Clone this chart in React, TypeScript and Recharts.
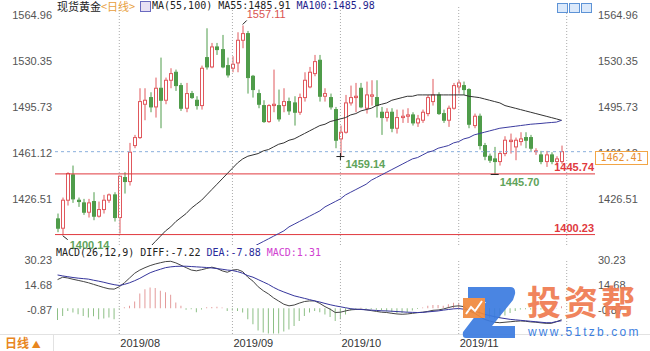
import React from "react";
import {
  ComposedChart,
  Bar,
  Line,
  XAxis,
  YAxis,
  ReferenceLine,
  ReferenceDot,
  Cell,
} from "recharts";

// daily candles, Jul 2019 .. end Nov 2019 (index 0 = first candle)
const opens = [
  1412, 1405, 1426, 1445, 1426, 1424, 1417, 1425, 1414, 1419, 1426, 1430, 1413, 1443, 1440, 1467, 1473, 1498, 1503, 1496,
  1510, 1501, 1516, 1522, 1512, 1495, 1506, 1501, 1497, 1533, 1526, 1541, 1539, 1527, 1525, 1529, 1546, 1551, 1519, 1506,
  1497, 1485, 1497, 1497, 1497, 1500, 1499, 1492, 1503, 1511, 1521, 1531, 1504, 1503, 1494, 1472, 1477, 1499, 1503, 1510,
  1495, 1504, 1503, 1492, 1488, 1492, 1480, 1488, 1489, 1490, 1484, 1486, 1491, 1500, 1505, 1491, 1486, 1495, 1511, 1512,
  1509, 1482, 1489, 1467, 1459, 1457, 1455, 1461, 1470, 1466, 1470, 1473, 1473, 1463, 1460, 1455, 1460, 1455, 1455,
];
const highs = [
  1416, 1428, 1447, 1452, 1428, 1427, 1427, 1432, 1425, 1430, 1431, 1432, 1444, 1447, 1469, 1475, 1510, 1510, 1507, 1518,
  1533, 1518, 1525, 1524, 1514, 1514, 1508, 1504, 1527, 1555, 1544, 1544, 1550, 1533, 1534, 1552, 1557.11, 1553, 1520, 1509,
  1501, 1498, 1524, 1509, 1510, 1503, 1504, 1506, 1522, 1526, 1535, 1535, 1510, 1506, 1496, 1482, 1505, 1512, 1514, 1514,
  1515, 1516, 1516, 1496, 1495, 1495, 1494, 1494, 1495, 1492, 1490, 1494, 1505, 1517, 1507, 1494, 1497, 1514, 1516, 1515,
  1510, 1491, 1491, 1469, 1461, 1466, 1463, 1474, 1476, 1473, 1477, 1477, 1475, 1465, 1463, 1463, 1462, 1459, 1467,
];
const lows = [
  1402, 1400.14, 1422, 1424, 1421, 1415, 1413, 1411, 1413, 1416, 1424, 1410, 1401, 1431, 1437, 1465, 1472, 1486, 1492, 1488,
  1480, 1498, 1510, 1508, 1493, 1492, 1502, 1494, 1494, 1524, 1525, 1535, 1525, 1518, 1522, 1522, 1540, 1506, 1503, 1495,
  1484, 1484, 1492, 1485, 1492, 1490, 1482, 1490, 1500, 1510, 1519, 1500, 1500, 1494, 1465, 1459.14, 1476, 1497, 1492, 1495,
  1491, 1497, 1488, 1475, 1485, 1477, 1476, 1484, 1484, 1482, 1481, 1484, 1489, 1497, 1490, 1484, 1481, 1494, 1506, 1505,
  1480, 1480, 1464, 1456, 1454, 1445.7, 1452, 1459, 1461, 1456, 1467, 1465, 1463, 1460, 1453, 1451, 1453, 1452, 1453,
];
const closes = [
  1405, 1426, 1446, 1427, 1425, 1417, 1424, 1414, 1419, 1426, 1430, 1413, 1444, 1440, 1462, 1473, 1500, 1501, 1496, 1510,
  1501, 1516, 1521, 1512, 1495, 1506, 1503, 1497, 1525, 1526, 1541, 1539, 1526, 1520, 1528, 1546, 1551, 1518, 1509, 1498,
  1485, 1497, 1498, 1487, 1500, 1493, 1492, 1503, 1516, 1522, 1530, 1504, 1506, 1496, 1471, 1477, 1499, 1503, 1504, 1496,
  1505, 1505, 1497, 1488, 1492, 1480, 1488, 1489, 1490, 1484, 1487, 1492, 1503, 1505, 1491, 1486, 1495, 1512, 1514, 1509,
  1483, 1489, 1467, 1459, 1456, 1455, 1461, 1471, 1471, 1471, 1472, 1471, 1465, 1463, 1455, 1460, 1455, 1457, 1462.41,
];

const ma55 = [
  ...Array(17).fill(null),
  1387, 1391, 1395, 1399, 1403, 1406, 1410, 1413, 1416, 1420, 1423, 1426, 1430, 1434, 1438, 1442, 1446, 1450, 1454, 1457,
  1459, 1460, 1461, 1463, 1464, 1466, 1468, 1469, 1471, 1472, 1474, 1476, 1478, 1480, 1482, 1483, 1485, 1486, 1487, 1488,
  1490, 1491, 1493, 1494, 1495, 1497, 1498, 1499, 1501, 1502, 1503, 1504, 1504, 1505, 1505, 1505, 1505, 1505, 1505, 1505,
  1505, 1505, 1505, 1504, 1503.5, 1503, 1502, 1501, 1500, 1499, 1497, 1496, 1495, 1494, 1493, 1492, 1491, 1490, 1489, 1488,
  1487, 1485.91,
];
const ma100 = [
  ...Array(38).fill(null),
  1391, 1393, 1395, 1397, 1399, 1401, 1403, 1406, 1408, 1410, 1412, 1414, 1416, 1418, 1421, 1423, 1425, 1427, 1430, 1432,
  1434, 1436, 1438, 1441, 1443, 1445, 1447, 1449, 1451, 1453, 1455, 1457, 1458, 1460, 1462, 1463, 1465, 1466, 1467, 1469,
  1470, 1472, 1473, 1475, 1476, 1477, 1478, 1479, 1480, 1480.5, 1481, 1481.5, 1482, 1482.5, 1483, 1483.3, 1483.6, 1484,
  1484.3, 1484.6, 1485.98,
];

const diff = [
  18.0, 19.5, 19.0, 18.2, 17.5, 16.8, 16.0, 15.0, 14.0, 13.0, 12.2, 12.0, 13.5, 16.0, 19.0, 22.0, 24.0, 25.5, 26.8, 27.8,
  28.6, 29.3, 29.5, 28.5, 27.0, 25.5, 24.0, 23.5, 24.2, 25.0, 25.8, 25.0, 23.5, 22.6, 24.0, 24.3, 23.0, 19.5, 17.0, 13.5,
  11.0, 9.0, 6.5, 4.5, 2.5, 1.5, 2.0, 3.2, 4.2, 4.6, 4.6, 3.0, 1.0, -0.6, -2.7, -2.5, -1.7, -1.0, -0.8, -0.6,
  -1.0, -1.5, -2.0, -2.5, -2.7, -3.2, -3.6, -3.8, -3.6, -3.2, -2.8, -2.5, -2.0, -1.3, -1.1, -0.5, 0.4, 1.2, 1.5, 1.0,
  -1.7, -3.0, -5.0, -7.0, -8.0, -8.8, -9.1, -8.8, -8.5, -8.2, -8.0, -8.2, -8.6, -8.8, -9.2, -9.5, -9.5, -8.5, -7.22,
];
const dea = [
  20.9, 20.3, 19.8, 19.3, 18.9, 18.6, 18.3, 17.6, 17.0, 16.3, 15.5, 14.8, 14.3, 15.0, 16.0, 17.3, 18.8, 20.6, 22.3, 23.5,
  24.5, 25.5, 26.0, 26.3, 26.4, 26.4, 26.2, 26.0, 25.8, 25.6, 25.3, 24.9, 24.5, 24.0, 23.7, 23.0, 22.0, 20.5, 19.5, 18.0,
  16.5, 15.0, 13.1, 11.5, 10.2, 9.0, 7.8, 7.0, 6.2, 5.4, 4.6, 3.9, 3.0, 2.2, 1.5, 0.9, 0.3, -0.3, -0.6, -0.8,
  -1.0, -1.2, -1.4, -1.6, -1.7, -1.9, -2.1, -2.3, -2.5, -2.6, -2.7, -2.6, -2.3, -2.0, -1.7, -1.2, -0.8, -0.4, -0.2, -0.6,
  -1.2, -1.9, -2.7, -3.8, -4.6, -5.3, -6.0, -6.5, -7.0, -7.3, -7.6, -7.9, -8.2, -8.5, -8.8, -9.1, -9.1, -8.4, -7.88,
];
const macdHist = [
  -7.4, -4.9, -1.7, -2.7, -3.8, -4.9, -5.9, -5.0, -7.0, -6.5, -5.9, -7.0, -0.5, 0.6, 1.5, 4.2, 9.3, 12.0, 13.1, 12.7,
  11.0, 10.0, 8.5, 3.6, 1.5, -1.0, -0.6, -2.5, -0.8, 0.6, 0.8, 1.0, 0.5, -1.7, -1.5, -1.7, -2.7, -7.0, -10.0, -14.0,
  -15.2, -15.9, -15.9, -15.9, -14.6, -13.3, -11.2, -8.0, -4.9, -2.7, -1.7, -2.5, -4.0, -5.5, -8.0, -7.0, -4.0, -1.5, -0.5, 0.3,
  -0.5, -0.8, -1.0, -1.5, -2.0, -2.5, -3.0, -3.0, -2.5, -1.5, -0.5, 0.5, 1.5, 2.0, 2.0, 1.5, 2.5, 3.5, 3.5, 2.5,
  -1.0, -2.5, -4.5, -5.5, -6.0, -6.5, -6.2, -4.5, -3.0, -1.8, -0.8, -0.6, -0.8, -0.6, -0.8, -0.8, -0.5, -0.2, 1.31,
];

const priceTicks = [1426.51, 1461.12, 1495.73, 1530.35, 1564.96];
const macdTicks = [-0.87, 14.68, 30.23];
const monthStarts = [12, 34, 55, 78];
const monthLabels = ["2019/08", "2019/09", "2019/10", "2019/11"];
const gridDays = [12, 34, 55, 78, 99];
const lastPrice = 1462.41;
const supportLines = [1445.74, 1400.23];
const SLOTS = 105;

const rows = Array.from({ length: SLOTS }, (_, i) => ({
  i,
  o: opens[i] ?? null,
  h: highs[i] ?? null,
  l: lows[i] ?? null,
  c: closes[i] ?? null,
  ma55: ma55[i] ?? null,
  ma100: ma100[i] ?? null,
  diff: diff[i] ?? null,
  dea: dea[i] ?? null,
  m: macdHist[i] ?? null,
}));

const RED = "#e0585d";
const GREEN = "#4f9c4a";
const SANS = "'Liberation Sans', Arial, sans-serif";
const MONO = "'DejaVu Sans Mono', 'Liberation Mono', monospace";
const CJK = "'Noto Sans CJK SC', sans-serif";
const tickStyle = { fontSize: 11, fill: "#555", fontFamily: SANS };

function Candle(p: any) {
  const { x, y, width, height, payload } = p;
  if (!payload || payload.h == null) return null;
  const { o, h, l, c } = payload;
  const span = h - l || 1;
  const py = (v: number) => y + ((h - v) / span) * height;
  const up = c >= o;
  const col = up ? RED : GREEN;
  const bx = Math.round(x) + 0.5;
  const cx = bx + 1.5;
  const top = py(Math.max(o, c));
  const bot = py(Math.min(o, c));
  return (
    <g>
      <line x1={cx} x2={cx} y1={y} y2={y + height} stroke={col} />
      <rect
        x={bx}
        y={top}
        width={Math.max(width - 1, 2)}
        height={Math.max(bot - top, 0.8)}
        fill={up ? "#fff" : col}
        stroke={col}
      />
    </g>
  );
}

const lineLabel = (text: string) => (props: any) => {
  const vb = props.viewBox;
  return (
    <text
      x={vb.x + vb.width - 1}
      y={vb.y - 3}
      textAnchor="end"
      fill="#e0393e"
      fontSize={11}
      fontWeight="bold"
      fontFamily={SANS}
    >
      {text}
    </text>
  );
};

// small marker + value text next to an extreme candle
const pointLabel = (text: string, kind: string) => (props: any) => {
  const vb = props.viewBox;
  const px = vb.x + vb.width / 2;
  const py = vb.y + vb.height / 2;
  if (kind === "high") {
    return (
      <g>
        <line x1={px} y1={py - 1} x2={px + 4} y2={py - 5} stroke="#222" />
        <text x={px + 4} y={py - 7} fill="#d9534f" fontSize={11} fontFamily={SANS}>
          {text}
        </text>
      </g>
    );
  }
  if (kind === "arrow") {
    return (
      <g>
        <line x1={px} y1={py + 1} x2={px + 5} y2={py + 5} stroke="#222" />
        <text x={px + 7} y={py + 14} fill="#5fa35a" fontSize={11} fontWeight="bold" fontFamily={SANS}>
          {text}
        </text>
      </g>
    );
  }
  return (
    <g>
      <line x1={px - 4} y1={py + 0.5} x2={px + 4} y2={py + 0.5} stroke="#222" />
      {kind === "cross" && <line x1={px} y1={py - 3} x2={px} y2={py + 4} stroke="#222" />}
      <text x={px + 5} y={py + 12} fill="#5fa35a" fontSize={11} fontWeight="bold" fontFamily={SANS}>
        {text}
      </text>
    </g>
  );
};

function MonthTick(props: any) {
  const { x, y, payload } = props;
  const k = monthStarts.indexOf(payload.value);
  return (
    <text x={x + 1} y={y + 13} fill="#333" fontSize={11} fontFamily={SANS}>
      {monthLabels[k]}
    </text>
  );
}

export default function App() {
  return (
    <div
      style={{
        position: "absolute",
        left: 0,
        top: 0,
        width: 650,
        height: 351,
        background: "#fff",
        overflow: "hidden",
        fontFamily: SANS,
      }}
    >
      <div style={{ position: "absolute", left: 0, top: 0 }}>
        <ComposedChart width={650} height={250} data={rows} margin={{ top: 5, right: 0, bottom: 5, left: 0 }}>
          <XAxis dataKey="i" hide />
          <YAxis
            yAxisId="p"
            width={55}
            domain={[1392.4, 1572.46]}
            allowDataOverflow
            ticks={priceTicks}
            interval={0}
            tickFormatter={(v: number) => v.toFixed(2)}
            tick={tickStyle}
            tickSize={0}
            tickMargin={3}
            axisLine={false}
            tickLine={false}
          />
          <YAxis
            yAxisId="pr"
            orientation="right"
            width={55}
            domain={[1392.4, 1572.46]}
            allowDataOverflow
            ticks={priceTicks}
            interval={0}
            tickFormatter={(v: number) => v.toFixed(2)}
            tick={tickStyle}
            tickSize={0}
            tickMargin={3}
            axisLine={false}
            tickLine={false}
          />
          {gridDays.map((d) => (
            <ReferenceLine key={d} x={d} yAxisId="p" stroke="#aaa" strokeDasharray="1 2" />
          ))}
          <ReferenceLine y={lastPrice} yAxisId="p" stroke="#8ab0dc" strokeDasharray="3 3" />
          {supportLines.map((v) => (
            <ReferenceLine key={v} y={v} yAxisId="p" stroke="#e0393e" label={lineLabel(v.toFixed(2))} />
          ))}
          <Bar
            yAxisId="p"
            dataKey={(d: any) => (d.h == null ? null : [d.l, d.h])}
            barSize={4}
            shape={Candle}
            isAnimationActive={false}
          />
          <Line yAxisId="p" dataKey="ma55" stroke="#333" strokeWidth={1} dot={false} isAnimationActive={false} />
          <Line yAxisId="p" dataKey="ma100" stroke="#3c3ca0" strokeWidth={1} dot={false} isAnimationActive={false} />
          <ReferenceDot yAxisId="p" x={36} y={highs[36]} r={0} stroke="none" label={pointLabel("1557.11", "high")} />
          <ReferenceDot yAxisId="p" x={1} y={lows[1]} r={0} stroke="none" label={pointLabel("1400.14", "arrow")} />
          <ReferenceDot yAxisId="p" x={55} y={lows[55]} r={0} stroke="none" label={pointLabel("1459.14", "cross")} />
          <ReferenceDot yAxisId="p" x={85} y={lows[85]} r={0} stroke="none" label={pointLabel("1445.70", "tick")} />
        </ComposedChart>
      </div>

      <div style={{ position: "absolute", left: 0, top: 250 }}>
        <ComposedChart width={650} height={101} data={rows} margin={{ top: 9, right: 0, bottom: 0, left: 0 }}>
          <XAxis
            dataKey="i"
            height={17}
            ticks={monthStarts}
            interval={0}
            tick={MonthTick}
            tickSize={0}
            tickMargin={0}
            axisLine={false}
            tickLine={false}
          />
          <YAxis
            yAxisId="m"
            width={55}
            domain={[-16.2, 30.94]}
            allowDataOverflow
            ticks={macdTicks}
            interval={0}
            tickFormatter={(v: number) => v.toFixed(2)}
            tick={tickStyle}
            tickSize={0}
            tickMargin={3}
            axisLine={false}
            tickLine={false}
          />
          <YAxis
            yAxisId="mr"
            orientation="right"
            width={55}
            domain={[-16.2, 30.94]}
            allowDataOverflow
            ticks={macdTicks}
            interval={0}
            tickFormatter={(v: number) => v.toFixed(2)}
            tick={tickStyle}
            tickSize={0}
            tickMargin={3}
            axisLine={false}
            tickLine={false}
          />
          {gridDays.map((d) => (
            <ReferenceLine key={d} x={d} yAxisId="m" stroke="#aaa" strokeDasharray="1 2" />
          ))}
          <Bar yAxisId="m" dataKey="m" barSize={1} isAnimationActive={false}>
            {rows.map((r) => (
              <Cell key={r.i} fill={r.m != null && r.m >= 0 ? "#e39a9a" : "#8cbf85"} />
            ))}
          </Bar>
          <Line yAxisId="m" dataKey="diff" stroke="#444" strokeWidth={1} dot={false} isAnimationActive={false} />
          <Line yAxisId="m" dataKey="dea" stroke="#35359c" strokeWidth={1} dot={false} isAnimationActive={false} />
        </ComposedChart>
      </div>

      {/* header rows */}
      <div style={{ position: "absolute", left: 57, top: 0, fontSize: 11, lineHeight: "13px", whiteSpace: "pre" }}>
        <span style={{ fontFamily: CJK, color: "#222" }}>现货黄金</span>
        <span style={{ fontFamily: CJK, color: "#e8a040" }}>{"<日线>"}</span>
      </div>
      <div
        style={{
          position: "absolute",
          left: 140,
          top: 1,
          width: 9,
          height: 9,
          border: "1px solid #6a6ac0",
          background: "#e8e0f4",
        }}
      />
      <div
        style={{ position: "absolute", left: 152, top: 0, fontSize: 10, lineHeight: "12px", fontFamily: MONO, whiteSpace: "pre" }}
      >
        <span style={{ color: "#222" }}>{"MA(55,100) MA55:1485.91 "}</span>
        <span style={{ color: "#1e1e8c" }}>MA100:1485.98</span>
      </div>
      {[557, 569, 581].map((x) => (
        <div
          key={x}
          style={{
            position: "absolute",
            left: x,
            top: 3,
            width: 9,
            height: 8,
            border: "1px solid #5d93d6",
            background: "#dbe9fb",
          }}
        />
      ))}
      <div
        style={{ position: "absolute", left: 56, top: 247, fontSize: 10, lineHeight: "12px", fontFamily: MONO, whiteSpace: "pre" }}
      >
        <span style={{ color: "#222" }}>{"MACD(26,12,9) DIFF:-7.22 "}</span>
        <span style={{ color: "#2a2a9a" }}>{"DEA:-7.88 "}</span>
        <span style={{ color: "#d040d0" }}>MACD:1.31</span>
      </div>

      {/* last price tag */}
      <div
        style={{
          position: "absolute",
          left: 595,
          top: 151,
          width: 51,
          height: 12,
          border: "1px solid #f2a546",
          background: "#fff",
          color: "#e89030",
          fontFamily: MONO,
          fontSize: 10,
          lineHeight: "12px",
          textAlign: "center",
        }}
      >
        1462.41
      </div>

      {/* footer */}
      <div style={{ position: "absolute", left: 0, top: 334, width: 650, height: 1, background: "#e2e2e2" }} />
      <div style={{ position: "absolute", left: 53, top: 334, width: 1, height: 17, background: "#e2e2e2" }} />
      <div
        style={{
          position: "absolute",
          left: 5,
          top: 335,
          fontFamily: CJK,
          fontSize: 12,
          lineHeight: "16px",
          color: "#e8861e",
          fontWeight: "bold",
        }}
      >
        日线 <span style={{ fontSize: 9 }}>▲</span>
      </div>

      {/* watermark */}
      <svg style={{ position: "absolute", left: 460, top: 284, opacity: 0.92 }} width={60} height={58}>
        <path d="M8 3 H50 Q56 3 55 10 L53 16 L32 42 H55 V54 H6 Q2 54 3 48 L26 18 H8 Z" fill="#3b7be0" />
        <rect x={3} y={14} width={22} height={20} fill="#f0893c" />
        <polyline points="6,30 11,23 15,27 22,17" fill="none" stroke="#fff" strokeWidth={2} />
      </svg>
      <div
        style={{
          position: "absolute",
          left: 527,
          top: 283,
          fontFamily: CJK,
          fontWeight: "bold",
          fontSize: 34,
          lineHeight: "36px",
          letterSpacing: 3,
          color: "#f07e55",
          opacity: 0.95,
        }}
      >
        投资帮
      </div>
      <div
        style={{
          position: "absolute",
          left: 528,
          top: 326,
          fontFamily: SANS,
          fontSize: 12,
          lineHeight: "13px",
          letterSpacing: 2.2,
          color: "#3d7fe0",
        }}
      >
        www.51tzb.com
      </div>
    </div>
  );
}
